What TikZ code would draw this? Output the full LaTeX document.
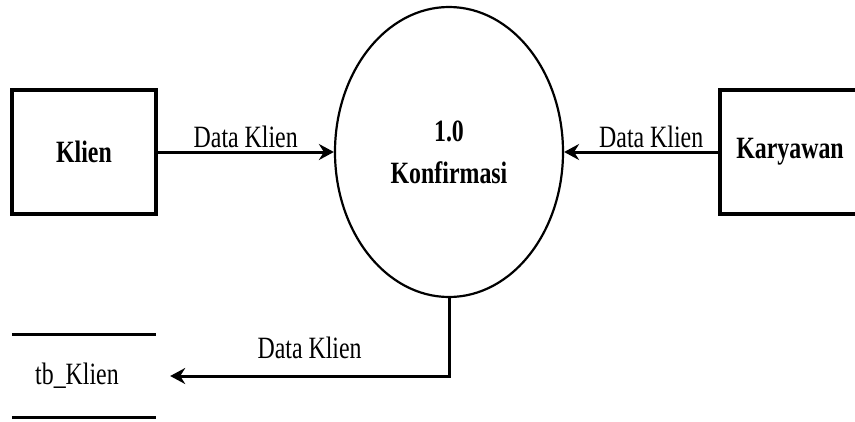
\documentclass[tikz,border=0pt]{standalone}
\usepackage{fontspec}
\setmainfont{Liberation Serif}[FakeStretch=0.77]
\usetikzlibrary{arrows.meta,shapes.geometric}
\begin{document}
\begin{tikzpicture}[x=1pt,y=-1pt,
  every node/.style={font=\fontsize{31}{42}\selectfont},
  entity/.style={draw,line width=3.2pt,minimum width=144pt,minimum height=124pt,font=\fontsize{31}{42}\selectfont\bfseries},
  procnode/.style={draw,ellipse,line width=2.2pt,minimum width=228pt,minimum height=290pt,inner sep=0pt,align=center,font=\fontsize{31}{42}\selectfont\bfseries},
  flow/.style={line width=3pt,-{Stealth[length=15pt,width=16pt,inset=5pt]}},
  flowlabel/.style={font=\fontsize{31}{42}\selectfont},
  storeline/.style={line width=3.2pt}]
\useasboundingbox (0,0) rectangle (855,421);
\node[entity] (klien) at (84,152) {Klien};
\node[entity] (kary) at (792,152) {\hspace*{-4pt}Karyawan};
\node[procnode] (proc) at (449,152) {1.0\\Konfirmasi};
\node[minimum width=144pt,minimum height=82pt,inner sep=0pt] (tb) at (84,376) {};
\node[flowlabel] (tblabel) at (77,376) {tb\_Klien};
\draw[storeline] (tb.north west) -- (tb.north east);
\draw[storeline] (tb.south west) -- (tb.south east);
\draw[flow] (klien.east) -- node[flowlabel,above=-1pt] {Data Klien} (proc.west);
\draw[flow] (kary.west) -- node[flowlabel,above=-1pt,xshift=10pt] {Data Klien} (proc.east);
\draw[flow] (proc.south) |- node[flowlabel,pos=0.75,above=12pt] {Data Klien} ([xshift=14pt]tb.east);
\end{tikzpicture}
\end{document}
